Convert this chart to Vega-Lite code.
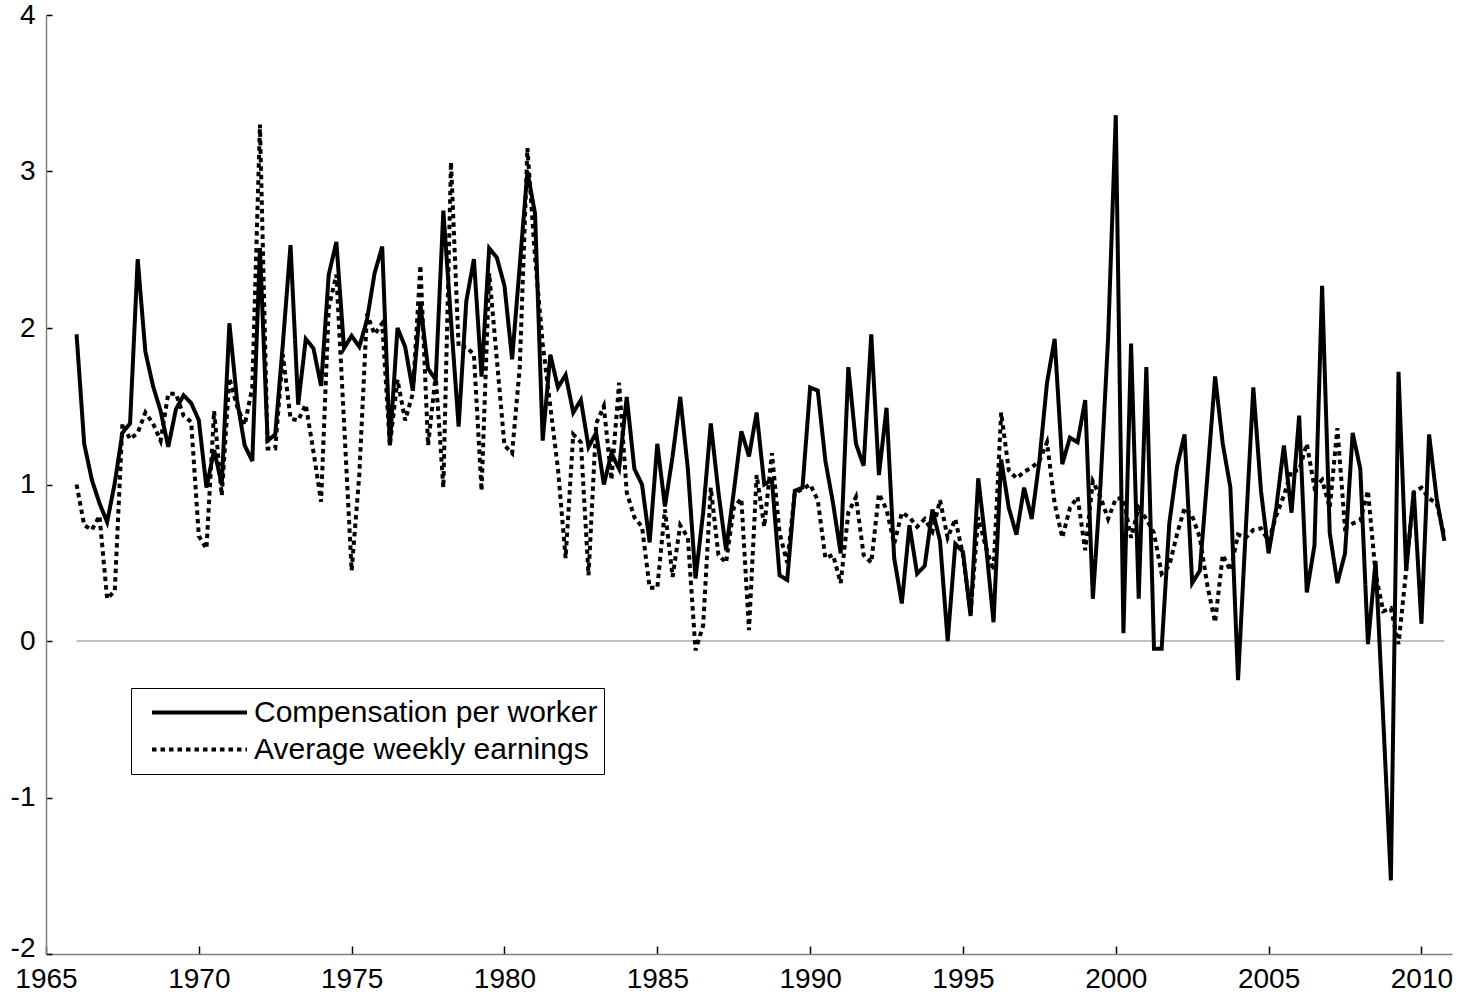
{
  "$schema": "https://vega.github.io/schema/vega-lite/v6.json",
  "width": 1406,
  "height": 939,
  "autosize": {"type": "none"},
  "padding": {"left": 46, "top": 15, "right": 14, "bottom": 40},
  "background": "white",
  "config": {"view": {"stroke": null}, "font": "Liberation Sans"},
  "layer": [
    {
      "data": {"values": [{"t0": 1966, "t1": 2010.75, "z": 0}]},
      "mark": {"type": "rule", "color": "#808080", "strokeWidth": 1},
      "encoding": {
        "x": {"field": "t0", "type": "quantitative"},
        "x2": {"field": "t1"},
        "y": {"field": "z", "type": "quantitative"}
      }
    },
    {
      "data": {"values": [
        {"t":1966,"c":1.96,"a":1.0},{"t":1966.25,"c":1.26,"a":0.74},{"t":1966.5,"c":1.03,"a":0.71},{"t":1966.75,"c":0.88,"a":0.8},
        {"t":1967,"c":0.76,"a":0.27},{"t":1967.25,"c":1.01,"a":0.32},{"t":1967.5,"c":1.33,"a":1.39},{"t":1967.75,"c":1.39,"a":1.29},
        {"t":1968,"c":2.44,"a":1.33},{"t":1968.25,"c":1.85,"a":1.46},{"t":1968.5,"c":1.63,"a":1.39},{"t":1968.75,"c":1.47,"a":1.28},
        {"t":1969,"c":1.24,"a":1.58},{"t":1969.25,"c":1.48,"a":1.58},{"t":1969.5,"c":1.57,"a":1.44},{"t":1969.75,"c":1.52,"a":1.4},
        {"t":1970,"c":1.41,"a":0.67},{"t":1970.25,"c":0.98,"a":0.59},{"t":1970.5,"c":1.22,"a":1.47},{"t":1970.75,"c":1.0,"a":0.93},
        {"t":1971,"c":2.03,"a":1.68},{"t":1971.25,"c":1.54,"a":1.5},{"t":1971.5,"c":1.25,"a":1.38},{"t":1971.75,"c":1.15,"a":1.62},
        {"t":1972,"c":2.51,"a":3.3},{"t":1972.25,"c":1.28,"a":1.23},{"t":1972.5,"c":1.32,"a":1.23},{"t":1972.75,"c":1.9,"a":1.83},
        {"t":1973,"c":2.53,"a":1.42},{"t":1973.25,"c":1.51,"a":1.41},{"t":1973.5,"c":1.93,"a":1.51},{"t":1973.75,"c":1.87,"a":1.21},
        {"t":1974,"c":1.63,"a":0.89},{"t":1974.25,"c":2.34,"a":2.13},{"t":1974.5,"c":2.55,"a":2.34},{"t":1974.75,"c":1.87,"a":1.4},
        {"t":1975,"c":1.95,"a":0.45},{"t":1975.25,"c":1.88,"a":1.06},{"t":1975.5,"c":2.05,"a":2.09},{"t":1975.75,"c":2.35,"a":1.96},
        {"t":1976,"c":2.52,"a":2.03},{"t":1976.25,"c":1.25,"a":1.25},{"t":1976.5,"c":2.0,"a":1.67},{"t":1976.75,"c":1.88,"a":1.41},
        {"t":1977,"c":1.6,"a":1.58},{"t":1977.25,"c":2.15,"a":2.4},{"t":1977.5,"c":1.74,"a":1.25},{"t":1977.75,"c":1.67,"a":1.7},
        {"t":1978,"c":2.75,"a":0.98},{"t":1978.25,"c":2.05,"a":3.06},{"t":1978.5,"c":1.37,"a":1.88},{"t":1978.75,"c":2.17,"a":1.88},
        {"t":1979,"c":2.44,"a":1.83},{"t":1979.25,"c":1.69,"a":0.96},{"t":1979.5,"c":2.51,"a":2.35},{"t":1979.75,"c":2.45,"a":1.8},
        {"t":1980,"c":2.27,"a":1.25},{"t":1980.25,"c":1.8,"a":1.2},{"t":1980.5,"c":2.4,"a":1.75},{"t":1980.75,"c":3.0,"a":3.15},
        {"t":1981,"c":2.73,"a":2.45},{"t":1981.25,"c":1.28,"a":1.9},{"t":1981.5,"c":1.83,"a":1.5},{"t":1981.75,"c":1.62,"a":1.1},
        {"t":1982,"c":1.7,"a":0.53},{"t":1982.25,"c":1.46,"a":1.32},{"t":1982.5,"c":1.54,"a":1.27},{"t":1982.75,"c":1.24,"a":0.42},
        {"t":1983,"c":1.33,"a":1.39},{"t":1983.25,"c":1.0,"a":1.5},{"t":1983.5,"c":1.2,"a":1.03},{"t":1983.75,"c":1.1,"a":1.65},
        {"t":1984,"c":1.56,"a":0.95},{"t":1984.25,"c":1.1,"a":0.79},{"t":1984.5,"c":1.0,"a":0.73},{"t":1984.75,"c":0.63,"a":0.34},
        {"t":1985,"c":1.26,"a":0.34},{"t":1985.25,"c":0.86,"a":0.84},{"t":1985.5,"c":1.18,"a":0.41},{"t":1985.75,"c":1.56,"a":0.74},
        {"t":1986,"c":1.1,"a":0.66},{"t":1986.25,"c":0.4,"a":-0.06},{"t":1986.5,"c":0.82,"a":0.1},{"t":1986.75,"c":1.39,"a":0.98},
        {"t":1987,"c":0.95,"a":0.55},{"t":1987.25,"c":0.58,"a":0.5},{"t":1987.5,"c":0.95,"a":0.85},{"t":1987.75,"c":1.34,"a":0.91},
        {"t":1988,"c":1.18,"a":0.07},{"t":1988.25,"c":1.46,"a":1.06},{"t":1988.5,"c":1.0,"a":0.73},{"t":1988.75,"c":1.03,"a":1.2},
        {"t":1989,"c":0.42,"a":0.69},{"t":1989.25,"c":0.39,"a":0.5},{"t":1989.5,"c":0.96,"a":0.95},{"t":1989.75,"c":0.98,"a":0.97},
        {"t":1990,"c":1.62,"a":1.0},{"t":1990.25,"c":1.6,"a":0.9},{"t":1990.5,"c":1.15,"a":0.53},{"t":1990.75,"c":0.88,"a":0.55},
        {"t":1991,"c":0.56,"a":0.37},{"t":1991.25,"c":1.75,"a":0.82},{"t":1991.5,"c":1.26,"a":0.92},{"t":1991.75,"c":1.12,"a":0.55},
        {"t":1992,"c":1.96,"a":0.5},{"t":1992.25,"c":1.06,"a":0.94},{"t":1992.5,"c":1.49,"a":0.84},{"t":1992.75,"c":0.53,"a":0.62},
        {"t":1993,"c":0.24,"a":0.82},{"t":1993.25,"c":0.74,"a":0.79},{"t":1993.5,"c":0.43,"a":0.73},{"t":1993.75,"c":0.48,"a":0.78},
        {"t":1994,"c":0.84,"a":0.7},{"t":1994.25,"c":0.64,"a":0.9},{"t":1994.5,"c":0.0,"a":0.66},{"t":1994.75,"c":0.62,"a":0.78},
        {"t":1995,"c":0.57,"a":0.55},{"t":1995.25,"c":0.16,"a":0.18},{"t":1995.5,"c":1.04,"a":0.79},{"t":1995.75,"c":0.62,"a":0.6},
        {"t":1996,"c":0.12,"a":0.45},{"t":1996.25,"c":1.16,"a":1.46},{"t":1996.5,"c":0.85,"a":1.09},{"t":1996.75,"c":0.68,"a":1.04},
        {"t":1997,"c":0.98,"a":1.08},{"t":1997.25,"c":0.78,"a":1.11},{"t":1997.5,"c":1.15,"a":1.15},{"t":1997.75,"c":1.65,"a":1.27},
        {"t":1998,"c":1.93,"a":0.88},{"t":1998.25,"c":1.13,"a":0.66},{"t":1998.5,"c":1.3,"a":0.85},{"t":1998.75,"c":1.27,"a":0.92},
        {"t":1999,"c":1.54,"a":0.58},{"t":1999.25,"c":0.27,"a":1.02},{"t":1999.5,"c":1.0,"a":0.92},{"t":1999.75,"c":1.94,"a":0.78},
        {"t":2000,"c":3.36,"a":0.91},{"t":2000.25,"c":0.05,"a":0.91},{"t":2000.5,"c":1.9,"a":0.66},{"t":2000.75,"c":0.27,"a":0.85},
        {"t":2001,"c":1.75,"a":0.78},{"t":2001.25,"c":-0.05,"a":0.69},{"t":2001.5,"c":-0.05,"a":0.43},{"t":2001.75,"c":0.75,"a":0.48},
        {"t":2002,"c":1.11,"a":0.68},{"t":2002.25,"c":1.32,"a":0.85},{"t":2002.5,"c":0.37,"a":0.8},{"t":2002.75,"c":0.45,"a":0.66},
        {"t":2003,"c":1.06,"a":0.35},{"t":2003.25,"c":1.69,"a":0.12},{"t":2003.5,"c":1.26,"a":0.55},{"t":2003.75,"c":0.98,"a":0.45},
        {"t":2004,"c":-0.25,"a":0.68},{"t":2004.25,"c":0.7,"a":0.66},{"t":2004.5,"c":1.62,"a":0.71},{"t":2004.75,"c":0.96,"a":0.72},
        {"t":2005,"c":0.56,"a":0.64},{"t":2005.25,"c":0.85,"a":0.8},{"t":2005.5,"c":1.25,"a":0.93},{"t":2005.75,"c":0.82,"a":1.09},
        {"t":2006,"c":1.44,"a":1.09},{"t":2006.25,"c":0.31,"a":1.26},{"t":2006.5,"c":0.61,"a":0.98},{"t":2006.75,"c":2.27,"a":1.03},
        {"t":2007,"c":0.69,"a":0.85},{"t":2007.25,"c":0.37,"a":1.36},{"t":2007.5,"c":0.56,"a":0.72},{"t":2007.75,"c":1.33,"a":0.75},
        {"t":2008,"c":1.1,"a":0.77},{"t":2008.25,"c":-0.02,"a":0.96},{"t":2008.5,"c":0.51,"a":0.43},{"t":2008.75,"c":-0.5,"a":0.19},
        {"t":2009,"c":-1.53,"a":0.21},{"t":2009.25,"c":1.72,"a":-0.02},{"t":2009.5,"c":0.45,"a":0.45},{"t":2009.75,"c":0.96,"a":0.95},
        {"t":2010,"c":0.11,"a":0.98},{"t":2010.25,"c":1.32,"a":0.91},{"t":2010.5,"c":0.91,"a":0.88},{"t":2010.75,"c":0.64,"a":0.67}
      ]},
      "transform": [{"fold": ["c", "a"], "as": ["s", "v"]}],
      "mark": {"type": "line", "color": "black", "strokeWidth": 4, "strokeCap": "butt"},
      "encoding": {
        "x": {
          "field": "t", "type": "quantitative",
          "scale": {"domain": [1965, 2011], "nice": false, "zero": false},
          "axis": {
            "title": null, "grid": false, "values": [1965,1970,1975,1980,1985,1990,1995,2000,2005,2010],
            "format": "d", "labelFontSize": 28, "labelColor": "black", "labelFont": "Liberation Sans",
            "domainColor": "#808080", "domainWidth": 1.5, "tickColor": "black", "tickSize": -8, "tickWidth": 1.5,
            "labelPadding": 19, "labelFlush": false
          }
        },
        "y": {
          "field": "v", "type": "quantitative",
          "scale": {"domain": [-2, 4], "nice": false, "zero": false},
          "axis": {
            "title": null, "grid": false, "values": [-2,-1,0,1,2,3,4],
            "labelExpr": "'' + datum.value",
            "labelOffset": {"condition": {"test": "datum.value == -2", "value": -6}, "value": 0},
            "labelFontSize": 28, "labelColor": "black", "labelFont": "Liberation Sans",
            "domainColor": "#808080", "domainWidth": 1.5, "tickColor": "black", "tickSize": -6, "tickWidth": 1.5,
            "labelPadding": 17, "labelFlush": false
          }
        },
        "strokeDash": {
          "field": "s", "type": "nominal",
          "scale": {"domain": ["c", "a"], "range": [[1, 0], [4.5, 4]]},
          "legend": {
            "orient": "none", "legendX": 85, "legendY": 673, "title": null,
            "symbolType": "stroke", "symbolSize": 9025, "symbolStrokeWidth": 4, "symbolStrokeColor": "black",
            "clipHeight": 37, "rowPadding": 0, "padding": 6, "symbolOffset": 13, "labelOffset": 5,
            "labelFontSize": 30, "labelFont": "Liberation Sans", "labelColor": "black",
            "labelExpr": "datum.value == 'c' ? 'Compensation per worker' : 'Average weekly earnings'",
            "strokeColor": "black", "fillColor": "white", "labelLimit": 600
          }
        }
      }
    }
  ]
}
